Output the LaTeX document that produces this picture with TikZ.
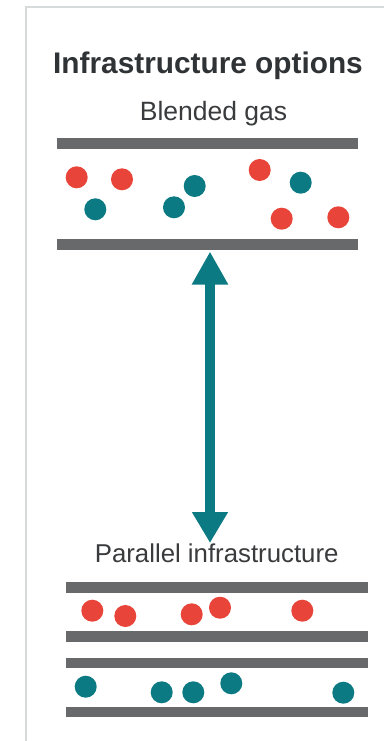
\documentclass[tikz,border=0pt]{standalone}
\usepackage{fontspec}
\setmainfont{Liberation Sans}
\usetikzlibrary{arrows.meta}
\definecolor{dotred}{HTML}{E8443A}
\definecolor{dotteal}{HTML}{0B7A83}
\definecolor{pipegray}{HTML}{68696B}
\definecolor{framegray}{HTML}{D6DADA}
\definecolor{titlegray}{HTML}{303336}
\definecolor{textgray}{HTML}{3A3B3D}
\tikzset{
  reddot/.style={circle,fill=dotred,minimum size=22pt,inner sep=0pt},
  tealdot/.style={circle,fill=dotteal,minimum size=22pt,inner sep=0pt},
  pipebar/.style={rectangle,fill=pipegray,minimum width=301pt,minimum height=10.5pt,inner sep=0pt},
  titletext/.style={anchor=base,text=titlegray,font=\bfseries\fontsize{29.8}{32}\selectfont,inner sep=0pt},
  subtext/.style={anchor=base,text=textgray,inner sep=0pt},
  framelines/.style={draw=framegray,line width=2pt},
  bigarrow/.style={draw=dotteal,line width=10pt,{Triangle[width=34pt,length=33pt]}-{Triangle[width=34pt,length=31pt]}}
}
\begin{document}
\begin{tikzpicture}[x=1pt,y=-1pt]
\useasboundingbox (0,0) rectangle (383,741);
\fill[white] (0,0) rectangle (383,741);
% frame
\coordinate (fbl) at (26,742);
\coordinate (ftl) at (26,7);
\coordinate (ftr) at (384,7);
\draw[framelines] (fbl) -- (ftl) -- (ftr);
% titles
\node[titletext] (title) at (208,73.5) {Infrastructure options};
\node[subtext,font=\fontsize{26.5}{30}\selectfont] (blended) at (213.5,121) {Blended gas};
\node[subtext,font=\fontsize{25.8}{28}\selectfont] (parallel) at (216.7,562.5) {Parallel infrastructure};
% top pipe
\node[pipebar] (b1) at (207.5,143.5) {};
\node[pipebar] (b2) at (207.5,244.5) {};
\node[reddot] (r1) at (76.7,177.3) {};
\node[reddot] (r2) at (122,179.3) {};
\node[tealdot] (t1) at (95.3,209.3) {};
\node[tealdot] (t2) at (174,207.3) {};
\node[tealdot] (t3) at (194.7,186) {};
\node[reddot] (r3) at (259.7,170) {};
\node[tealdot] (t4) at (300.7,182.7) {};
\node[reddot] (r4) at (281.7,218.7) {};
\node[reddot] (r5) at (338.3,217.3) {};
% arrow
\coordinate (atop) at (210,251.5);
\coordinate (abot) at (210,543);
\draw[bigarrow] (atop) -- (abot);
% bottom pipes
\node[pipebar,minimum width=302pt] (c1) at (216.8,587.5) {};
\node[pipebar,minimum width=302pt] (c2) at (216.8,636.3) {};
\node[pipebar,minimum width=302pt] (c3) at (216.8,663) {};
\node[pipebar,minimum width=302pt] (c4) at (216.8,712) {};
\node[reddot] (pr1) at (92.3,610.7) {};
\node[reddot] (pr2) at (125.3,616) {};
\node[reddot] (pr3) at (191.7,614.3) {};
\node[reddot] (pr4) at (220,607.7) {};
\node[reddot] (pr5) at (302.3,610.7) {};
\node[tealdot] (pt1) at (85.7,686.7) {};
\node[tealdot] (pt2) at (161.7,692.3) {};
\node[tealdot] (pt3) at (193.3,692.3) {};
\node[tealdot] (pt4) at (231.3,683.3) {};
\node[tealdot] (pt5) at (343.3,692.7) {};
\end{tikzpicture}
\end{document}
